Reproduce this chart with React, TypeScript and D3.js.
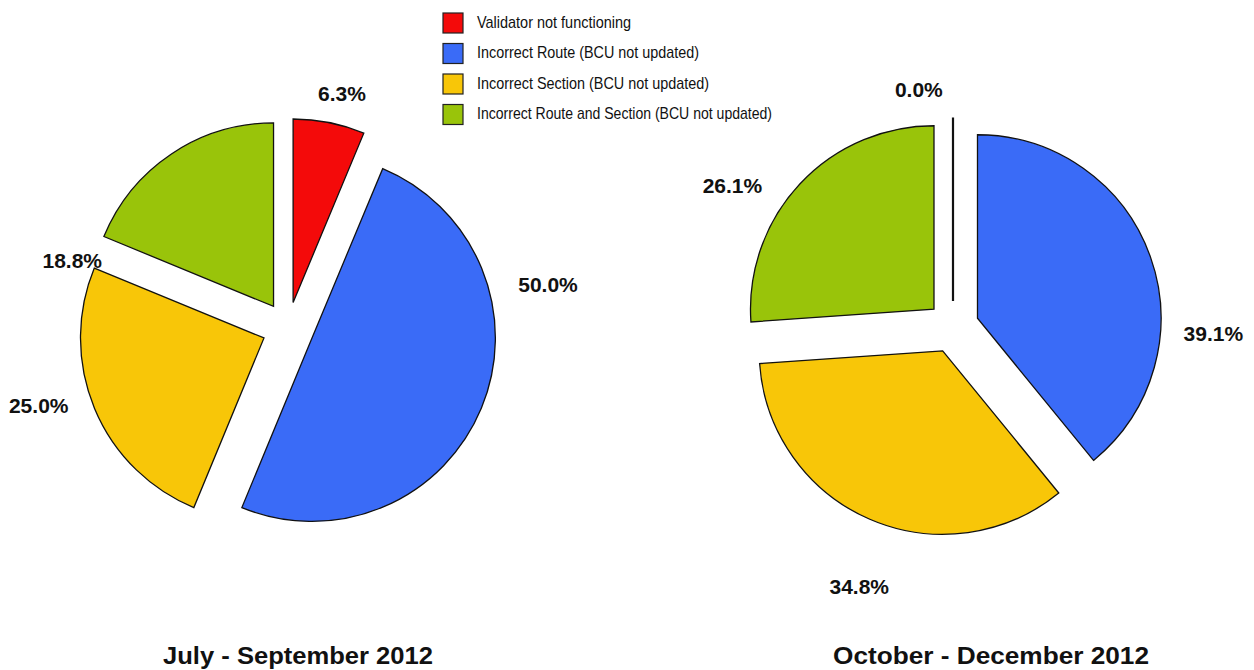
import React from "react";
import * as d3 from "d3";

// ---------- data ----------
const categories = [
  "Validator not functioning",
  "Incorrect Route (BCU not updated)",
  "Incorrect Section (BCU not updated)",
  "Incorrect Route and Section (BCU not updated)",
];
const periods = ["July - September 2012", "October - December 2012"];
const julySepValues = [6.3, 50.0, 25.0, 18.8];
const octDecValues = [0.0, 39.1, 34.8, 26.1];
const seriesValues = [julySepValues, octDecValues];

// ---------- styles / layout ----------
const colors = ["#f40a0a", "#3a6bf7", "#f8c608", "#99c40a"];
const W = 1254;
const H = 670;
const R = 183.5;
const EXPLODE = 26;
const pieLayouts = [
  {
    cx: 288,
    cy: 328,
    titleX: 298,
    titleLen: 270,
    labels: [
      [12.97, 240.6],
      [80.5, 263.6],
      [252.7, 261.1],
      [287.3, 226],
    ],
  },
  {
    cx: 953,
    cy: 327,
    titleX: 991,
    titleLen: 316,
    labels: [
      [351.8, 239.5],
      [91.4, 260.4],
      [199.9, 275.5],
      [302.6, 261.8],
    ],
  },
];
const legendTextLen = [154, 222, 232, 295];

const arcGen = d3.arc<any>().innerRadius(0).outerRadius(R);
const pieGen = d3
  .pie<number>()
  .sort(null)
  .value((d) => d);

function Pie({ values, layout, title }: any) {
  const arcs = pieGen(values);
  return (
    <g>
      <g transform={`translate(${layout.cx},${layout.cy})`}>
        {arcs.map((a, i) => {
          const mid = (a.startAngle + a.endAngle) / 2;
          const tx = EXPLODE * Math.sin(mid);
          const ty = -EXPLODE * Math.cos(mid);
          return (
            <path
              key={i}
              d={arcGen(a) || ""}
              transform={`translate(${tx},${ty})`}
              fill={colors[i]}
              stroke="#111"
              strokeWidth={a.endAngle - a.startAngle < 1e-6 ? 2.2 : 1.3}
              strokeLinejoin="miter"
            />
          );
        })}
        {arcs.map((a, i) => {
          const [deg, r] = layout.labels[i];
          const ang = (deg * Math.PI) / 180;
          const x = r * Math.sin(ang);
          const y = -r * Math.cos(ang);
          return (
            <text
              key={"l" + i}
              x={x}
              y={y + 7.5}
              textAnchor="middle"
              fontFamily="'Liberation Sans', Arial, sans-serif"
              fontWeight="bold"
              fontSize={21}
              fill="#111"
            >
              {values[i].toFixed(1)}%
            </text>
          );
        })}
      </g>
      <text
        x={layout.titleX}
        y={664}
        textAnchor="middle"
        fontFamily="'Liberation Sans', Arial, sans-serif"
        fontWeight="bold"
        fontSize={24}
        textLength={layout.titleLen}
        lengthAdjust="spacingAndGlyphs"
        fill="#111"
      >
        {title}
      </text>
    </g>
  );
}

export default function App() {
  return (
    <svg
      width={W}
      height={H}
      style={{ position: "absolute", left: 0, top: 0, background: "#fff" }}
    >
      <rect width={W} height={H} fill="#fff" />
      {seriesValues.map((vals, k) => (
        <Pie key={k} values={vals} layout={pieLayouts[k]} title={periods[k]} />
      ))}
      <g>
        {categories.map((c, i) => {
          const y = 13 + i * 30.5;
          return (
            <g key={c}>
              <rect
                x={443}
                y={y}
                width={20}
                height={20}
                fill={colors[i]}
                stroke="#222"
                strokeWidth={1.2}
              />
              <text
                x={477}
                y={y + 14.5}
                fontFamily="'Liberation Sans Narrow', 'Arial Narrow', 'Liberation Sans', Arial, sans-serif"
                fontSize={17}
                textLength={legendTextLen[i]}
                lengthAdjust="spacingAndGlyphs"
                fill="#111"
              >
                {c}
              </text>
            </g>
          );
        })}
      </g>
    </svg>
  );
}
